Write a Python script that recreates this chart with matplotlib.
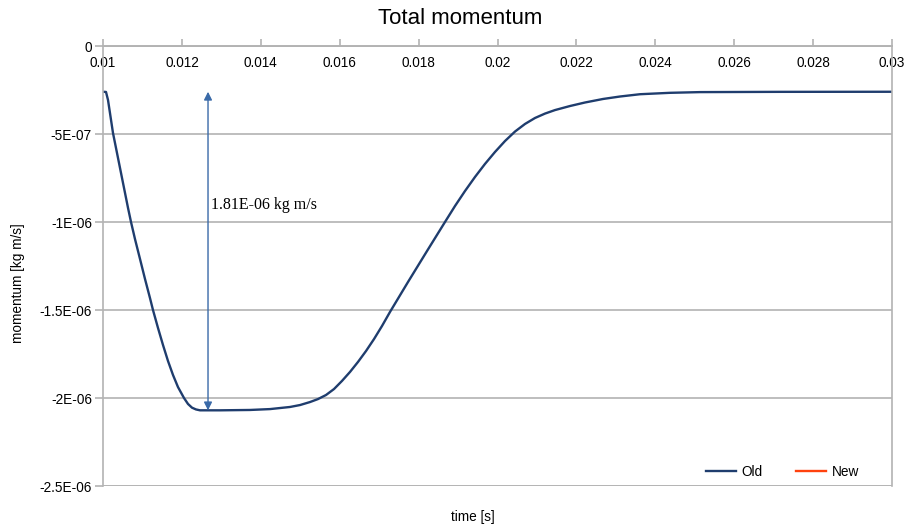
import matplotlib
matplotlib.use("Agg")
import matplotlib.pyplot as plt

# time [s] and total momentum [kg m/s] of the old solver run
time_old = [0.01, 0.010076, 0.010127, 0.010177, 0.010253, 0.010330, 0.010406,
            0.010482, 0.010558, 0.010634, 0.010710, 0.010811, 0.010938,
            0.011065, 0.011191, 0.011267, 0.011394, 0.011521, 0.011648,
            0.011774, 0.011901, 0.012053, 0.012155, 0.012256, 0.012357,
            0.012459, 0.012966, 0.013726, 0.014233, 0.014740, 0.014994,
            0.015247, 0.015450, 0.015653, 0.015856, 0.016058, 0.016261,
            0.016464, 0.016667, 0.016870, 0.017072, 0.017275, 0.017731,
            0.018213, 0.018669, 0.018923, 0.019176, 0.019430, 0.019683,
            0.019937, 0.020190, 0.020444, 0.020697, 0.020951, 0.021204,
            0.021458, 0.021838, 0.022218, 0.022675, 0.023105, 0.023612,
            0.024373, 0.025133, 0.027161, 0.03]
mom_old = [-0.260e-6, -0.261e-6, -0.307e-6, -0.381e-6, -0.494e-6, -0.580e-6,
           -0.665e-6, -0.750e-6, -0.835e-6, -0.920e-6, -1.000e-6, -1.097e-6,
           -1.210e-6, -1.324e-6, -1.432e-6, -1.500e-6, -1.602e-6, -1.699e-6,
           -1.790e-6, -1.869e-6, -1.938e-6, -2.000e-6, -2.034e-6, -2.055e-6,
           -2.065e-6, -2.070e-6, -2.070e-6, -2.068e-6, -2.063e-6, -2.051e-6,
           -2.040e-6, -2.023e-6, -2.006e-6, -1.983e-6, -1.949e-6, -1.903e-6,
           -1.852e-6, -1.795e-6, -1.733e-6, -1.665e-6, -1.591e-6, -1.511e-6,
           -1.341e-6, -1.165e-6, -1.000e-6, -0.909e-6, -0.824e-6, -0.744e-6,
           -0.670e-6, -0.602e-6, -0.540e-6, -0.486e-6, -0.443e-6, -0.409e-6,
           -0.384e-6, -0.364e-6, -0.341e-6, -0.321e-6, -0.301e-6, -0.287e-6,
           -0.274e-6, -0.266e-6, -0.262e-6, -0.2605e-6, -0.260e-6]
# new run has no samples in this window
time_new = []
mom_new = []

xticks = [0.01, 0.012, 0.014, 0.016, 0.018, 0.02, 0.022, 0.024, 0.026, 0.028, 0.03]
xticklabels = ["0.01", "0.012", "0.014", "0.016", "0.018", "0.02", "0.022",
               "0.024", "0.026", "0.028", "0.03"]
yticks = [0, -5e-7, -1e-6, -1.5e-6, -2e-6, -2.5e-6]
yticklabels = ["0", "-5E-07", "-1E-06", "-1.5E-06", "-2E-06", "-2.5E-06"]

# drop between the plateau and the minimum
drop_x = 0.012662
drop_top = -0.26e-6
drop = 1.81e-6

plt.rcParams['font.family'] = ['Liberation Sans', 'DejaVu Sans']
grey = '#b3b3b3'

fig = plt.figure(figsize=(9.06, 5.29), dpi=100)
ax = fig.add_axes([103/906, 1-486/529, (892-103)/906, (486-46)/529])

ax.plot(time_old, mom_old, color='#1f3d6e', lw=1.7, label='Old',
        solid_joinstyle='round')
ax.plot(time_new, mom_new, color='#ff420e', lw=1.7, label='New')

ax.set_xlim(0.01, 0.03)
ax.set_ylim(-2.5e-6, 0)
ax.set_xticks(xticks)
ax.set_xticklabels(xticklabels)
ax.set_yticks(yticks)
ax.set_yticklabels(yticklabels)

# x axis sits on the zero line, ticks pointing up, labels underneath
ax.spines['bottom'].set_position(('data', 0))
for s in ['bottom', 'top', 'left', 'right']:
    ax.spines[s].set_color(grey)
    ax.spines[s].set_linewidth(1.2)
ax.tick_params(axis='x', direction='in', length=5, color=grey, width=1.2,
               labelsize=9.8, pad=7)
ax.tick_params(axis='y', direction='out', length=6, color=grey, width=1.2,
               labelsize=9.8, pad=2)
ax.grid(axis='y', color=grey, lw=1.2)
ax.axhline(-2.5e-6, color=grey, lw=1.2)
ax.set_axisbelow(True)

ax.annotate('', xy=(drop_x, drop_top - drop), xytext=(drop_x, drop_top),
            arrowprops=dict(arrowstyle='<|-|>', color='#3a6aa8', lw=1.0,
                            mutation_scale=12, shrinkA=0, shrinkB=0))
ax.text(drop_x + 0.00007, -0.903e-6, '%.2E kg m/s' % drop,
        family=['Liberation Serif', 'DejaVu Serif'], fontsize=11.5,
        va='center', ha='left')

fig.text(460/906, 1-18/529, 'Total momentum', fontsize=16, ha='center', va='center')
fig.text(473/906, 1-517/529, 'time [s]', fontsize=9.8, ha='center', va='center')
fig.text(18/906, 1-283/529, 'momentum [kg m/s]', fontsize=9.8, rotation=90,
         ha='center', va='center')

ax.legend(loc='center', ncol=2, frameon=False, fontsize=9.8,
          handlelength=2.2, handletextpad=0.4, columnspacing=2.5,
          bbox_to_anchor=(0.861, 0.032))

fig.savefig('out.png', dpi=100)
